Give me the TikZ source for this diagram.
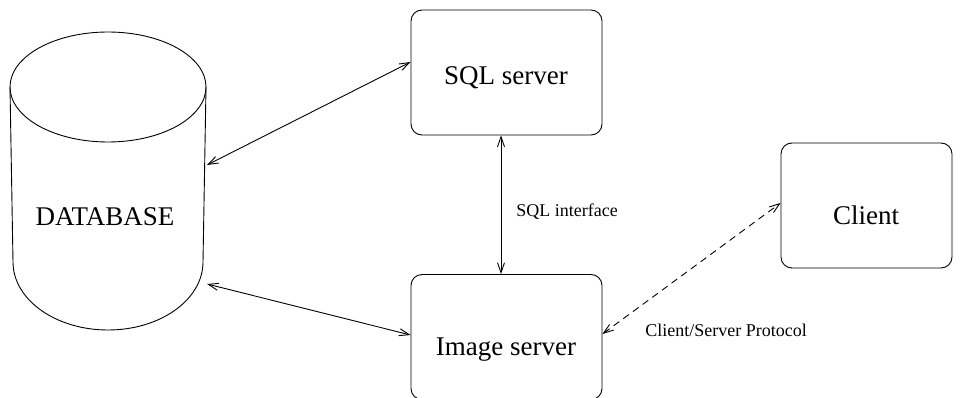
\documentclass[tikz,border=0pt]{standalone}
\usepackage{fontspec}
\setmainfont{Liberation Serif}
\usetikzlibrary{arrows.meta}
\begin{document}
\begin{tikzpicture}[x=1pt,y=-1pt,
  box/.style={draw,line width=0.9pt,rounded corners=11pt,minimum width=191pt,minimum height=125pt,inner sep=0pt},
  big/.style={font=\fontsize{27}{32}\selectfont,inner sep=0pt},
  small/.style={font=\fontsize{18}{22}\selectfont,inner sep=0pt},
  conn/.style={line width=0.9pt,{Straight Barb[length=10pt,width=7pt]}-{Straight Barb[length=10pt,width=7pt]}}]
\useasboundingbox (0,0) rectangle (960,398);
% database cylinder
\draw[line width=0.9pt] (108,87) ellipse [x radius=98,y radius=55];
\draw[line width=0.9pt] (10,87) -- (13,262) arc [start angle=180,end angle=0,x radius=95,y radius=68] -- (206,87);
\node[big] (dbtext) at (105,217) {DATABASE};
\coordinate (dbA) at (207,165);
\coordinate (dbB) at (207,284);
% boxes
\node[box] (sql) at (506.5,72.5) {};
\node[box] (image) at (506.5,337) {};
\node[box,minimum width=171pt] (client) at (866.5,205.5) {};
\node[big] (sqlt) at (506,78) {SQL server};
\node[big] (imaget) at (506,350) {Image server};
\node[big] (clientt) at (866,215) {Client};
% connectors
\draw[conn] (dbA) -- ([yshift=10.5pt]sql.west);
\draw[conn] (dbB) -- ([yshift=2pt]image.west);
\draw[conn] ([xshift=-5.5pt]sql.south) -- ([xshift=-5.5pt]image.north);
\draw[conn,dashed,dash pattern=on 7pt off 5pt] ([yshift=3pt]image.east) -- ([yshift=2.5pt]client.west);
\node[small] (sqlif) at (567,212) {SQL interface};
\node[small] (csp) at (726,330) {Client/Server Protocol};
\end{tikzpicture}
\end{document}
